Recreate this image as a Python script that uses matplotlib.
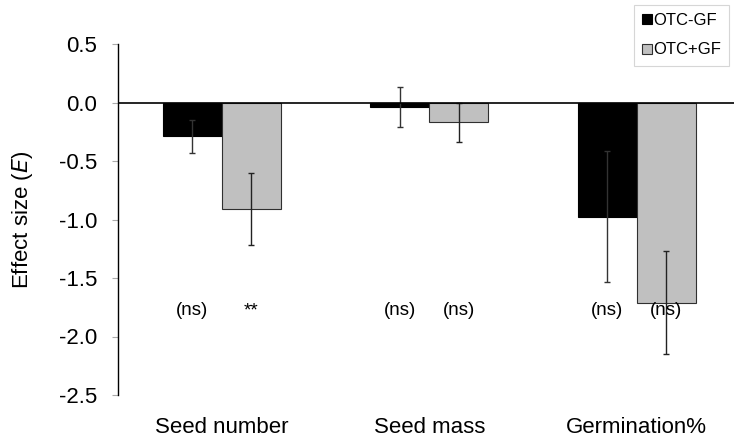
import numpy as np
import matplotlib
matplotlib.use("Agg")
import matplotlib.pyplot as plt

plt.rcParams['font.family'] = ['Liberation Sans', 'DejaVu Sans']

# data
categories = ["Seed number", "Seed mass", "Germination%"]
otc_minus_gf = [-0.29, -0.04, -0.975]
otc_minus_gf_err = [0.14, 0.17, 0.56]
otc_plus_gf = [-0.91, -0.17, -1.71]
otc_plus_gf_err = [0.31, 0.165, 0.44]
sig_minus = ["(ns)", "(ns)", "(ns)"]
sig_plus = ["**", "(ns)", "(ns)"]

fig = plt.figure(figsize=(7.34, 4.43), dpi=100)
ax = fig.add_axes([118/734, 48/443, 616/734, 351/443])

x = np.arange(len(categories))
w = 0.284

ax.bar(x - w/2, otc_minus_gf, w, color='black', edgecolor='black', linewidth=0.8,
       label='OTC-GF', zorder=2)
ax.bar(x + w/2, otc_plus_gf, w, color='#c0c0c0', edgecolor='#303030', linewidth=0.8,
       label='OTC+GF', zorder=2)
ax.errorbar(x - w/2, otc_minus_gf, yerr=otc_minus_gf_err, fmt='none', ecolor='#333333',
            elinewidth=1, capsize=2.5, capthick=1, zorder=3)
ax.errorbar(x + w/2, otc_plus_gf, yerr=otc_plus_gf_err, fmt='none', ecolor='#222222',
            elinewidth=1, capsize=2.5, capthick=1, zorder=3)

# significance labels
for i in range(len(categories)):
    ax.text(x[i] - w/2, -1.78, sig_minus[i], ha='center', va='center', fontsize=13.5)
    ax.text(x[i] + w/2, -1.78, sig_plus[i], ha='center', va='center', fontsize=13.5)

ax.axhline(0, color='black', linewidth=1.2, zorder=4)

ax.set_xlim(-0.5, -0.5 + 616/207.5)
ax.set_ylim(-2.5, 0.5)
ax.set_yticks(np.arange(-2.5, 0.51, 0.5))
ax.set_yticklabels(["%.1f" % v for v in np.arange(-2.5, 0.51, 0.5)])
ax.set_xticks(x)
ax.set_xticklabels(categories)
ax.tick_params(axis='x', length=0, pad=16, labelsize=16)
ax.tick_params(axis='y', length=4, color='#aaaaaa', labelsize=16, pad=11)

for s in ['top', 'right', 'bottom']:
    ax.spines[s].set_visible(False)
ax.spines['left'].set_linewidth(1)

ax.set_ylabel("Effect size ($\\it{E}$)", fontsize=16)
ax.yaxis.set_label_coords(-83/616, 0.5)

leg = ax.legend(loc='upper left', bbox_to_anchor=(634/734, 1 - 5/443), bbox_transform=fig.transFigure,
                fontsize=12, frameon=True, fancybox=False, handlelength=0.55, handleheight=0.55,
                handletextpad=0.1, borderpad=0.5, labelspacing=0.85, borderaxespad=0)
leg.get_frame().set_edgecolor('#cccccc')
leg.get_frame().set_linewidth(0.8)

fig.savefig("out.png", dpi=100)
